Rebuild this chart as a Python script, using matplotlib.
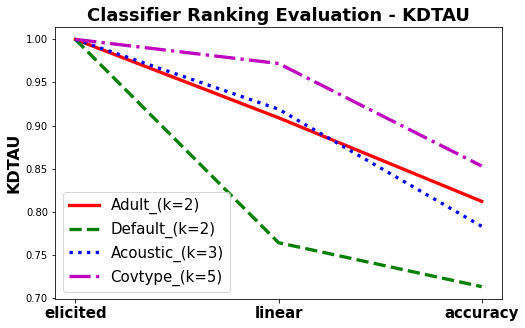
import matplotlib
matplotlib.use("Agg")
import matplotlib.pyplot as plt

categories = ["elicited", "linear", "accuracy"]
adult = [1.0, 0.909, 0.812]
default = [1.0, 0.764, 0.713]
acoustic = [1.0, 0.919, 0.783]
covtype = [1.0, 0.972, 0.853]

DPI = 72
fig = plt.figure(figsize=(525/DPI, 328/DPI), dpi=DPI)
ax = fig.add_axes([55/525, 1-299/328, (502-55)/525, (299-27)/328])
x = range(len(categories))
ax.plot(x, adult, 'r-', lw=3.3, label="Adult_(k=2)")
ax.plot(x, default, 'g--', lw=3.3, label="Default_(k=2)")
ax.plot(x, acoustic, 'b:', lw=3.3, label="Acoustic_(k=3)")
ax.plot(x, covtype, 'm-.', lw=3.3, label="Covtype_(k=5)")
ax.set_xticks(list(x))
ax.set_xticklabels(categories, fontsize=15, fontweight='bold')
ax.set_ylabel("KDTAU", fontsize=16, fontweight='bold')
ax.set_title("Classifier Ranking Evaluation - KDTAU", fontsize=18, fontweight='bold')
ax.legend(loc='lower left', fontsize=15)
fig.savefig("out.png", dpi=DPI)
